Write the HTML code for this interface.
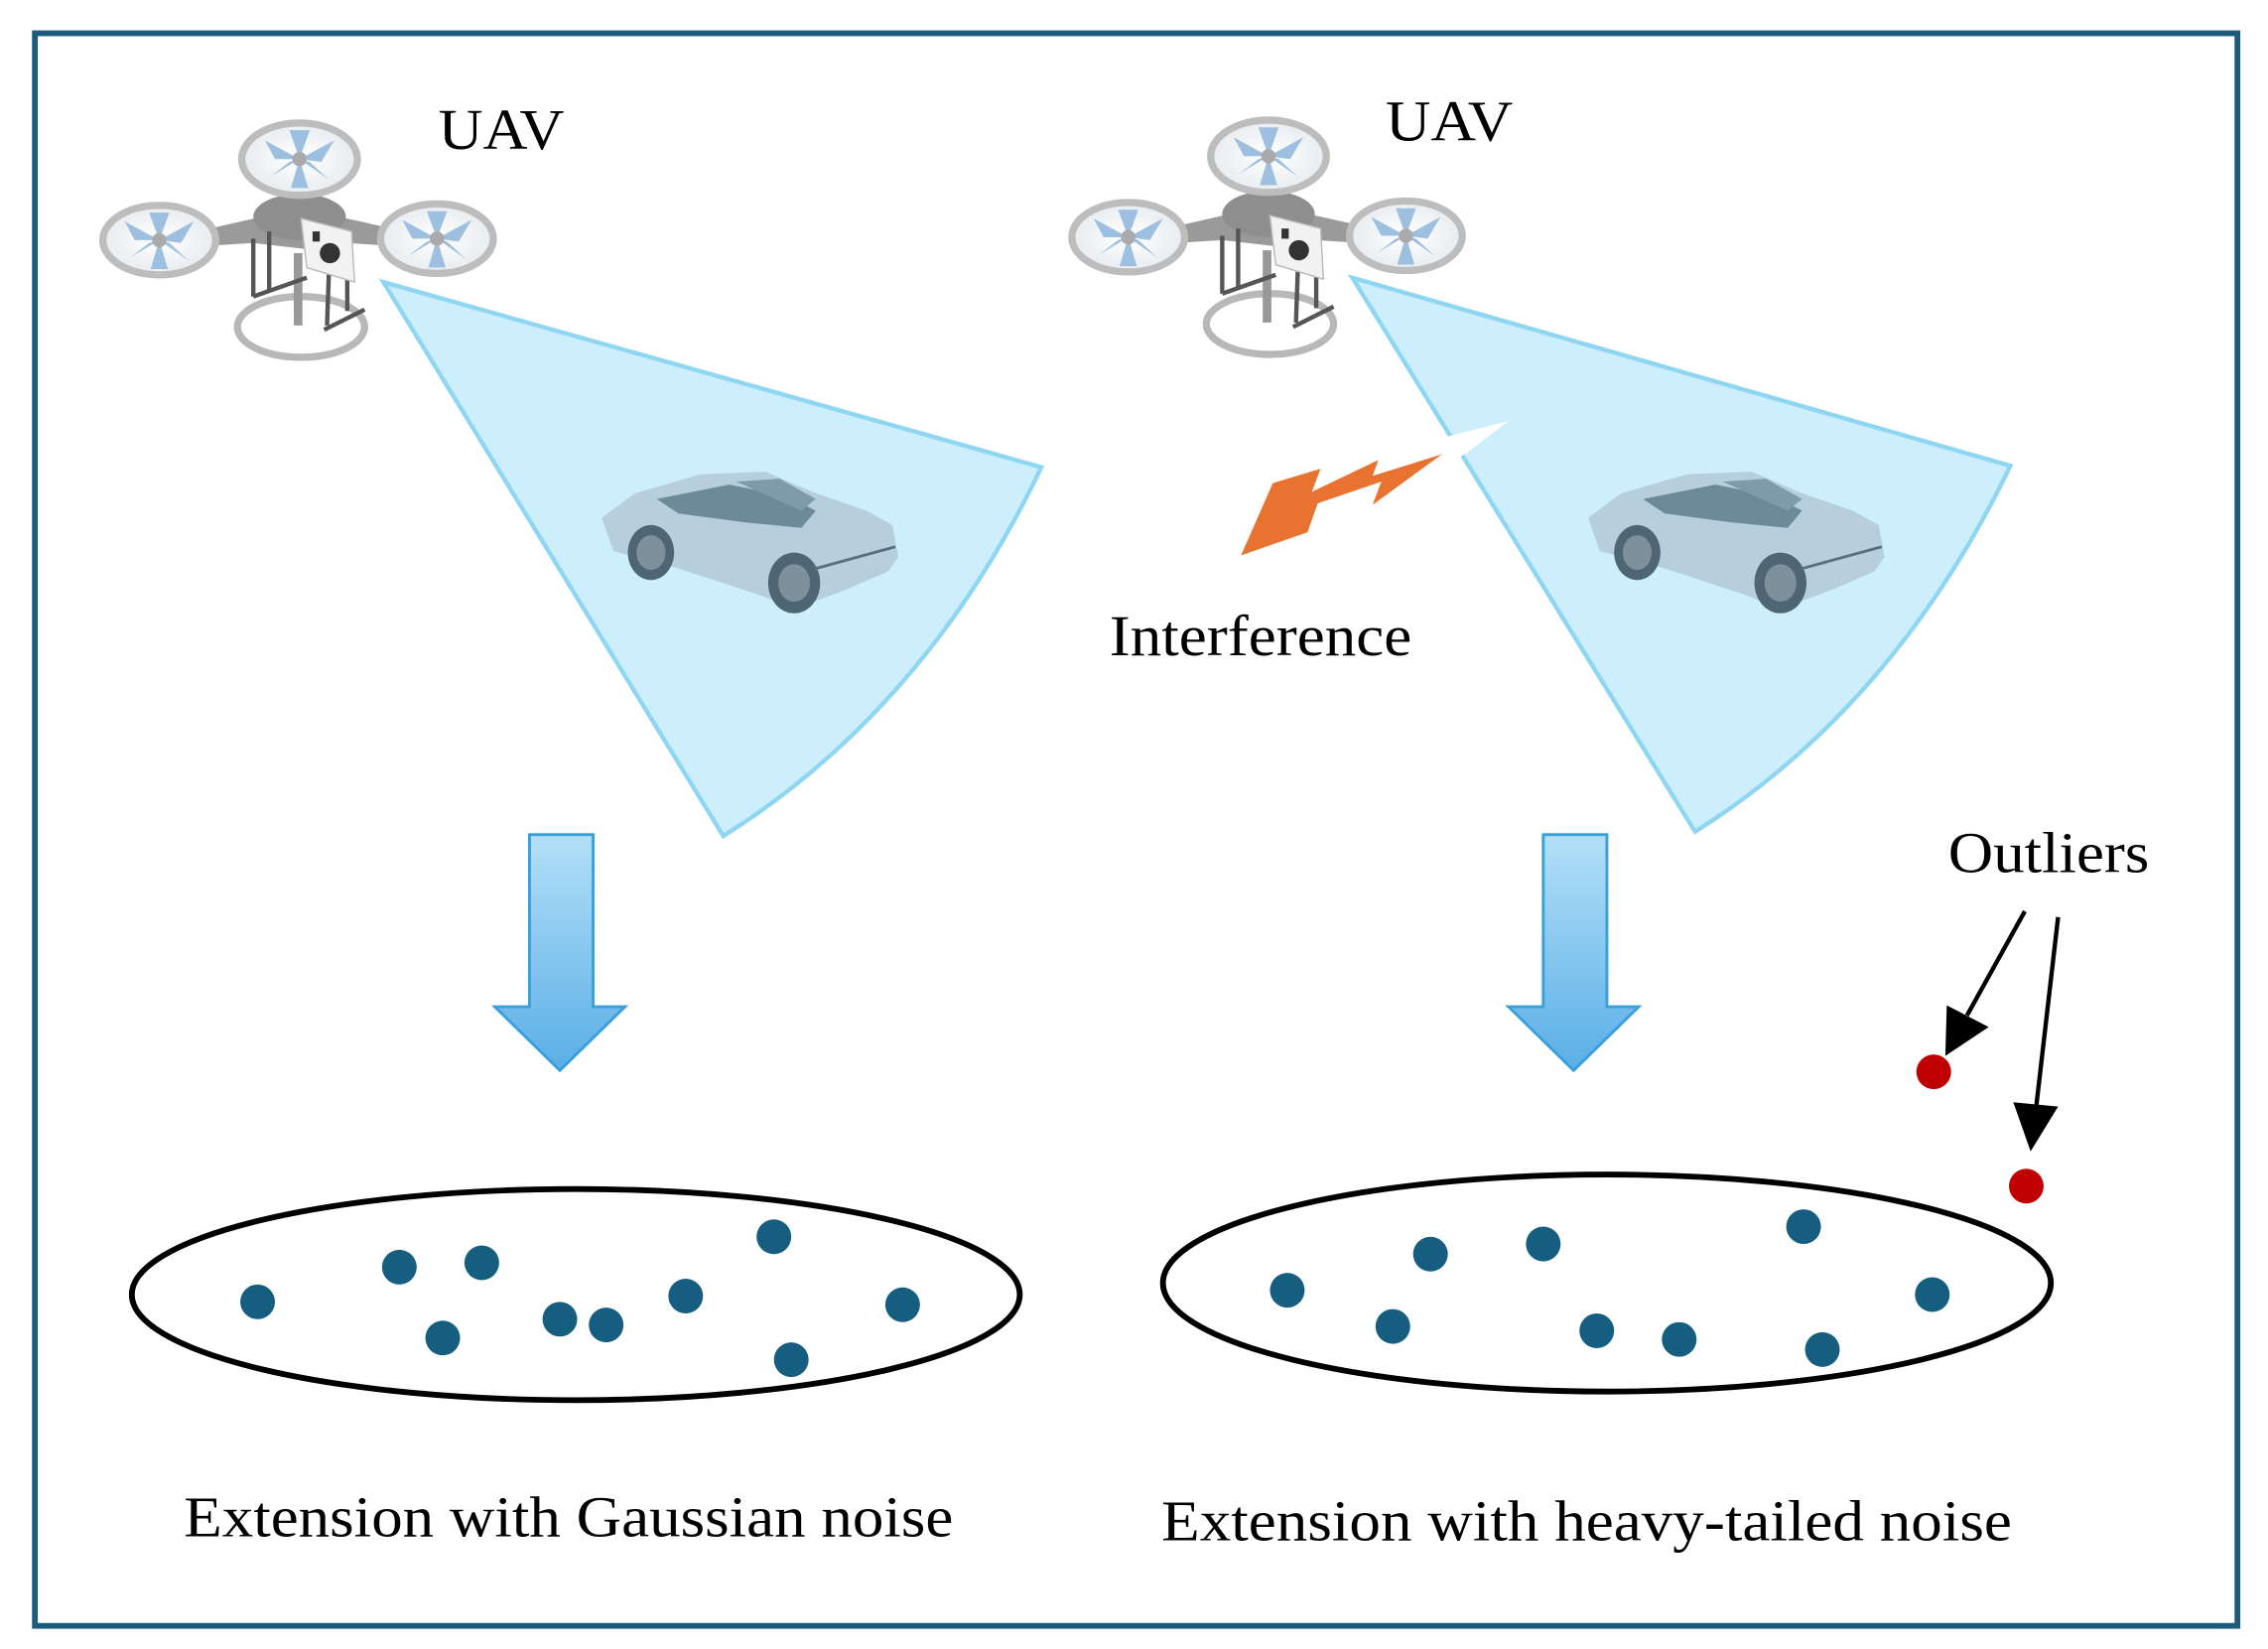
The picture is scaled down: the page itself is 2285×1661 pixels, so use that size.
<!DOCTYPE html>
<html><head><meta charset="utf-8"><style>
html,body{margin:0;padding:0;background:#fff;}
svg{display:block;}
text{font-family:"Liberation Serif",serif;fill:#000;}
</style></head><body>
<svg width="2285" height="1661" viewBox="0 0 1568 1140" xmlns="http://www.w3.org/2000/svg">
<defs>
<linearGradient id="ag" x1="0" y1="0" x2="0" y2="1">
<stop offset="0" stop-color="#b3e0f8"/><stop offset="1" stop-color="#5aaee6"/>
</linearGradient>
<radialGradient id="pg" cx="0.5" cy="0.5" r="0.5">
<stop offset="0" stop-color="#fff"/><stop offset="1" stop-color="#e8ecf0"/>
</radialGradient>
<g id="drone">
  <!-- arms -->
  <path d="M110,166 L180,150 L207,140 L235,150 L302,165 L302,172 L240,168 L210,172 L175,168 L110,172 Z" fill="#9a9a9a"/>
  <rect x="201" y="110" width="12" height="45" fill="#a0a0a0"/>
  <ellipse cx="207" cy="150" rx="32" ry="16" fill="#8e8e8e"/>
  <!-- bottom ring -->
  <ellipse cx="208" cy="226" rx="44" ry="21" fill="none" stroke="#b8b8b8" stroke-width="5"/>
  <rect x="203" y="175" width="6" height="50" fill="#999"/>
  <!-- legs -->
  <path d="M175,165 L175,205 M186,160 L186,200 M240,168 L240,215 M228,168 L226,225 M175,205 L212,192 M224,228 L252,214" stroke="#555" stroke-width="3" fill="none"/>
  <!-- camera -->
  <path d="M208,151 L243,160 L245,195 L212,185 Z" fill="#f2f2f2" stroke="#bbb" stroke-width="1"/>
  <circle cx="228" cy="175" r="7" fill="#333"/>
  <rect x="216" y="160" width="5" height="7" fill="#333"/>
  <!-- props -->
  <g>
    <ellipse cx="207" cy="110" rx="40" ry="25" fill="url(#pg)" stroke="#bdbdbd" stroke-width="5"/>
    <path d="M207,110 L183,97 L190,110 Z M207,110 L231,97 L222,112 Z M207,110 L187,122 L200,112 Z M207,110 L227,124 L214,112 Z M207,110 L200,90 L214,90 Z M207,110 L201,130 L213,130 Z" fill="#9ec0e0"/>
    <circle cx="207" cy="110" r="5" fill="#aaa"/>
  </g>
  <g>
    <ellipse cx="110" cy="166" rx="39" ry="24" fill="url(#pg)" stroke="#bdbdbd" stroke-width="5"/>
    <path d="M110,166 L86,153 L93,166 Z M110,166 L134,153 L125,168 Z M110,166 L90,178 L103,168 Z M110,166 L130,180 L117,168 Z M110,166 L103,147 L117,147 Z M110,166 L104,186 L116,186 Z" fill="#9ec0e0"/>
    <circle cx="110" cy="166" r="5" fill="#aaa"/>
  </g>
  <g>
    <ellipse cx="302" cy="165" rx="39" ry="24" fill="url(#pg)" stroke="#bdbdbd" stroke-width="5"/>
    <path d="M302,165 L278,152 L285,165 Z M302,165 L326,152 L317,167 Z M302,165 L282,177 L295,167 Z M302,165 L322,179 L309,167 Z M302,165 L295,146 L309,146 Z M302,165 L296,185 L308,185 Z" fill="#9ec0e0"/>
    <circle cx="302" cy="165" r="5" fill="#aaa"/>
  </g>
</g>
<g id="car">
  <path d="M2,35 L25,18 L70,5 L115,3 L150,18 L185,30 L203,40 L207,62 L200,72 L170,85 L135,98 L110,88 L55,70 L10,58 Z" fill="#b7cfdc"/>
  <path d="M40,22 L90,12 L130,20 L150,30 L140,42 L100,38 L55,32 Z" fill="#6d8a9a"/>
  <path d="M95,10 L125,8 L150,22 L140,30 Z" fill="#7f9aa8"/>
  <ellipse cx="36" cy="59" rx="16" ry="19" fill="#4e6674"/>
  <ellipse cx="36" cy="59" rx="10" ry="12" fill="#7d909b"/>
  <ellipse cx="135" cy="80" rx="18" ry="21" fill="#4e6674"/>
  <ellipse cx="135" cy="80" rx="11" ry="13" fill="#7d909b"/>
  <path d="M150,70 L205,55" stroke="#587080" stroke-width="2"/>
</g>
</defs>

<rect width="1568" height="1140" fill="#fff"/>
<rect x="24" y="23" width="1523" height="1101" fill="none" stroke="#1d5b7c" stroke-width="4"/>

<!-- cones -->
<path d="M265,195 L720,323 Q640,490 500,578 Z" fill="#cdeefc" stroke="#8fd6f2" stroke-width="3"/>
<path d="M935,192 L1390,322 Q1310,488 1172,575 Z" fill="#cdeefc" stroke="#8fd6f2" stroke-width="3"/>

<use href="#drone"/>
<use href="#drone" transform="translate(670,-2)"/>

<use href="#car" transform="translate(414,323)"/>
<use href="#car" transform="translate(1096,323)"/>

<!-- interference -->
<polygon points="1000,302 1043,291 1013,314 1005,318" fill="#fff"/>
<polygon points="858,384 880,334 913,324 907,340 953,318 949,329 997,314 949,349 955,333 911,348 904,368" fill="#e87330"/>

<text x="303" y="103" font-size="40" textLength="87" lengthAdjust="spacingAndGlyphs">UAV</text>
<text x="958" y="97" font-size="40" textLength="88" lengthAdjust="spacingAndGlyphs">UAV</text>
<text x="767" y="453" font-size="40" textLength="209" lengthAdjust="spacingAndGlyphs">Interference</text>
<text x="1347" y="603" font-size="40" textLength="139" lengthAdjust="spacingAndGlyphs">Outliers</text>

<!-- big arrows -->
<path d="M366,577 L410,577 L410,696 L432,696 L387,740 L342,696 L366,696 Z" fill="url(#ag)" stroke="#3aa0dc" stroke-width="2"/>
<path d="M1067,577 L1111,577 L1111,696 L1133,696 L1088,740 L1043,696 L1067,696 Z" fill="url(#ag)" stroke="#3aa0dc" stroke-width="2"/>

<!-- ellipses -->
<ellipse cx="398" cy="895" rx="307" ry="73" fill="none" stroke="#000" stroke-width="4"/>
<ellipse cx="1111" cy="887" rx="307" ry="75" fill="none" stroke="#000" stroke-width="4"/>

<g fill="#155e80">
<circle cx="178" cy="900" r="12"/><circle cx="276" cy="876" r="12"/><circle cx="333" cy="873" r="12"/>
<circle cx="306" cy="925" r="12"/><circle cx="387" cy="912" r="12"/><circle cx="419" cy="916" r="12"/>
<circle cx="474" cy="896" r="12"/><circle cx="535" cy="855" r="12"/><circle cx="547" cy="940" r="12"/>
<circle cx="624" cy="902" r="12"/>
<circle cx="890" cy="892" r="12"/><circle cx="989" cy="867" r="12"/><circle cx="1067" cy="860" r="12"/>
<circle cx="963" cy="917" r="12"/><circle cx="1104" cy="920" r="12"/><circle cx="1161" cy="926" r="12"/>
<circle cx="1247" cy="848" r="12"/><circle cx="1260" cy="933" r="12"/><circle cx="1336" cy="895" r="12"/>
</g>
<circle cx="1337" cy="741" r="12" fill="#c00000"/>
<circle cx="1401" cy="820" r="12" fill="#c00000"/>

<!-- outlier arrows -->
<line x1="1400" y1="630" x2="1360" y2="702" stroke="#000" stroke-width="3"/>
<polygon points="1345,730 1346,695 1375,710" fill="#000"/>
<line x1="1423" y1="634" x2="1408" y2="764" stroke="#000" stroke-width="3"/>
<polygon points="1404,796 1392,762 1423,765" fill="#000"/>

<text x="127" y="1062" font-size="40" textLength="532" lengthAdjust="spacingAndGlyphs">Extension with Gaussian noise</text>
<text x="803" y="1065" font-size="40" textLength="588" lengthAdjust="spacingAndGlyphs">Extension with heavy-tailed noise</text>
</svg>
</body></html>
